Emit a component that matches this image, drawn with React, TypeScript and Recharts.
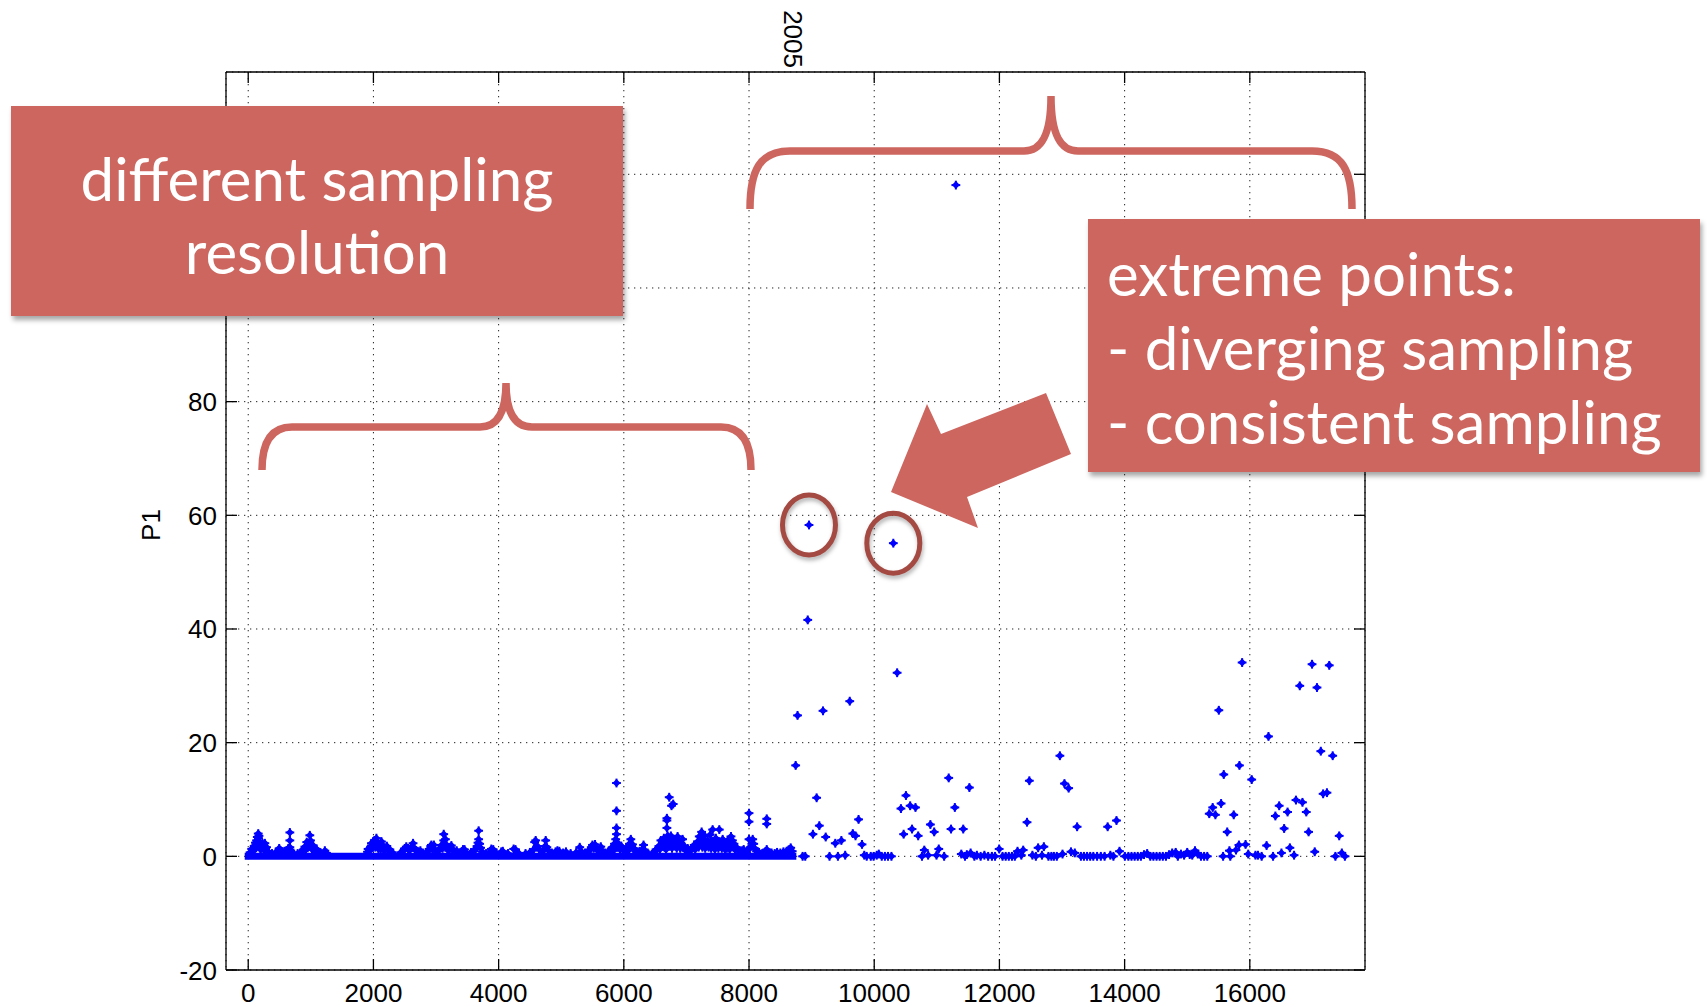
import React from 'react';
import { ScatterChart, Scatter, XAxis, YAxis, CartesianGrid, ReferenceLine, Label } from 'recharts';

// ---------- data ----------
const xTicks = [0, 2000, 4000, 6000, 8000, 10000, 12000, 14000, 16000];
const yTicks = [-20, 0, 20, 40, 60, 80, 100, 120];
// tick labels that the annotation box covers in the original are not drawn
const yTicksCovered = [100, 120];
const xDomain = [-355, 17840];
const yDomain = [-20, 138];
const topLabelPositions = [8700];
const topLabelTexts = ['2005'];
const yAxisTitle = 'P1';

// densely sampled period: continuous run of zero readings
const denseZeroRun = [0, 8700];

// non-zero readings in the densely sampled period [x, P1]
const denseSamples: number[][] = [
  [30,0.7],[55,1.3],[75,1.0],[95,1.8],[106,1.3],[115,2.4],[125,1.5],[133,2.8],[145,3.4],[152,2.2],[160,4.0],[165,3.2],[172,3.6],[178,2.6],[186,1.9],[196,1.2],[205,2.0],[215,1.4],[228,2.3],[240,1.6],[252,1.1],[266,2.3],[275,1.4],[293,1.6],[305,0.9],[330,0.7],[380,0.5],[440,0.7],[475,0.9],[495,1.4],[515,1.0],[540,0.8],[580,0.9],[615,1.0],[640,1.4],[665,1.6],[665,2.8],[665,4.2],[680,1.0],[720,0.6],[790,0.5],[850,0.8],[880,1.2],[905,1.7],[920,1.2],[935,2.5],[950,1.5],[965,2.3],[984,3.7],[995,2.8],[1005,1.8],[1020,1.2],[1037,1.9],[1055,1.1],[1075,0.8],[1090,1.3],[1120,0.8],[1160,0.6],[1224,1.0],[1250,0.6],
  [1905,0.8],[1915,1.3],[1940,1.0],[1955,1.7],[1968,2.3],[1985,1.5],[2000,2.2],[2015,2.8],[2030,1.6],[2048,3.2],[2065,2.2],[2080,1.3],[2100,2.0],[2115,1.2],[2128,2.6],[2145,1.6],[2154,1.9],[2170,1.0],[2190,1.4],[2214,1.8],[2235,1.0],[2263,1.2],[2300,0.7],
  [2440,0.7],[2480,1.0],[2500,1.4],[2525,1.7],[2553,1.4],[2575,1.0],[2600,1.6],[2633,2.3],[2650,1.5],[2680,1.0],[2720,0.8],[2750,1.0],[2790,0.6],
  [2860,0.8],[2890,1.3],[2915,1.8],[2926,2.0],[2945,1.2],[2966,2.0],[2990,1.0],[3030,0.9],[3060,1.4],[3090,2.0],[3105,1.4],[3123,2.8],[3123,3.9],[3135,2.2],[3150,3.0],[3165,2.0],[3180,1.4],[3200,1.0],[3225,1.6],[3245,1.9],[3265,1.2],[3295,0.8],[3330,1.0],[3370,0.6],[3410,0.8],[3431,1.2],[3455,1.2],[3485,0.6],
  [3560,0.7],[3600,0.9],[3630,1.2],[3655,1.8],[3670,2.4],[3681,3.0],[3681,4.5],[3697,2.2],[3712,1.5],[3740,0.8],[3800,0.5],[3860,0.8],[3884,1.3],[3914,1.2],[3960,0.6],[4043,0.8],[4067,0.9],[4150,0.5],[4240,1.3],[4269,1.2],[4320,0.6],
  [4430,0.5],[4500,0.7],[4560,1.2],[4575,2.5],[4592,2.8],[4605,1.6],[4619,1.8],[4648,1.2],[4700,0.9],[4730,1.2],[4745,1.8],[4752,2.8],[4770,1.6],[4800,1.0],[4850,0.6],[4910,0.8],[4939,1.0],[4970,0.9],[5030,0.6],[5076,0.8],[5150,0.5],[5240,0.7],[5296,1.6],[5320,0.9],[5380,0.6],
  [5430,0.8],[5460,1.2],[5480,1.6],[5499,2.0],[5520,1.4],[5540,2.1],[5565,1.2],[5600,1.0],[5632,1.7],[5655,1.0],[5700,0.6],[5750,0.8],[5792,1.2],[5815,1.6],[5835,1.0],[5850,2.2],[5865,1.6],[5870,3.0],[5883,3.9],[5883,5.0],[5883,8.0],[5883,12.9],[5895,2.4],[5905,1.6],[5920,2.0],[5940,1.2],[5960,1.8],[5980,1.3],[6010,0.9],[6040,1.4],[6070,1.0],[6090,2.2],[6112,3.0],[6125,1.8],[6139,2.1],[6160,1.4],[6200,0.8],[6250,0.9],[6290,1.2],[6315,2.0],[6340,1.0],[6380,0.6],
  [6460,0.6],[6500,0.9],[6530,1.3],[6560,1.8],[6575,1.2],[6592,2.8],[6605,1.8],[6620,2.4],[6640,3.2],[6650,1.6],[6665,2.2],[6675,1.2],[6688,5.0],[6688,6.3],[6688,6.7],[6695,2.0],[6700,3.6],[6712,2.8],[6725,10.4],[6730,1.8],[6740,2.6],[6752,3.6],[6762,8.9],[6770,1.4],[6780,2.2],[6789,9.2],[6800,3.0],[6815,1.8],[6830,2.6],[6845,1.4],[6859,3.5],[6870,2.0],[6885,2.6],[6900,1.4],[6915,2.2],[6939,3.0],[6950,1.6],[6965,1.8],[6990,1.0],
  [7020,1.4],[7050,0.9],[7080,1.2],[7100,1.6],[7125,2.0],[7140,1.2],[7160,1.8],[7180,2.6],[7195,1.6],[7205,3.5],[7220,2.2],[7243,4.3],[7255,1.6],[7260,3.0],[7275,2.2],[7290,3.6],[7300,1.4],[7310,2.4],[7325,1.8],[7340,2.8],[7355,1.6],[7370,2.2],[7380,3.8],[7395,1.4],[7405,2.6],[7419,4.7],[7430,1.8],[7440,2.6],[7455,1.2],[7470,3.2],[7485,2.0],[7500,2.6],[7510,1.4],[7525,4.7],[7540,1.8],[7550,2.4],[7565,1.4],[7579,3.0],[7590,1.8],[7600,2.5],[7615,1.2],[7630,2.0],[7645,1.4],[7660,2.8],[7675,1.8],[7690,1.2],[7712,3.5],[7722,2.2],[7735,2.8],[7750,1.6],[7760,2.2],[7775,1.2],[7800,1.6],[7830,1.0],[7860,0.8],[7890,1.0],[7915,1.2],[7960,0.7],[7990,1.2],[8000,3.0],[8000,6.1],[8000,7.6],[8020,1.6],[8045,2.2],[8059,3.0],[8075,2.2],[8090,1.4],[8120,0.9],[8160,0.7],[8210,0.5],[8260,0.8],[8283,1.2],[8283,5.7],[8283,6.6],[8310,0.7],[8360,0.6],[8410,0.5],[8448,0.7],[8500,0.6],[8550,0.8],[8600,0.9],[8630,1.1],[8645,1.2],[8666,1.5],[8690,0.9],
];

// readings in the sparsely sampled period [x, P1]
const sparseSamples: number[][] = [
  [8745,16.0],[8775,24.8],[8856,0],[8898,0],[8938,41.6],[8958,58.3],[9021,3.9],[9080,10.3],[9123,5.4],[9182,25.6],[9225,3.4],[9286,0],[9378,2.3],[9420,0],[9475,2.8],[9536,0.2],[9609,27.3],[9658,4.0],[9701,3.6],[9750,6.5],[9805,2.1],
  [9841,0.2],[9880,0],[9945,0],[9990,0],[10040,0.2],[10073,0.4],[10120,0],[10171,0],[10220,0],[10275,0],[10305,55.1],[10366,32.3],[10427,8.4],[10470,3.9],[10507,10.7],[10574,8.9],[10604,4.8],[10659,8.6],[10702,3.6],
  [10763,0],[10800,1.1],[10861,0.2],[10897,5.6],[10958,4.3],[10995,0.2],[11031,1.3],[11117,0],[11190,13.8],[11227,4.8],[11288,8.6],[11304,118.1],[11391,0.4],[11422,4.8],[11450,0],[11480,0.3],[11520,12.1],[11540,0.6],[11600,0],[11640,0.2],[11700,0],[11760,0.2],[11820,0],[11880,0],[11930,0],[11996,1.3],
  [12050,0],[12100,0],[12150,0],[12200,0],[12246,0],[12289,0.9],[12350,0.2],[12380,1.1],[12441,6.0],[12478,13.3],[12527,0.2],[12582,0],[12618,1.5],[12680,0.2],[12710,1.7],[12783,0],[12830,0],[12870,0],[12917,0],[12966,17.7],[13008,0.4],[13039,12.8],[13106,12.0],[13143,0.8],[13204,0.6],[13241,5.2],
  [13302,0],[13350,0],[13400,0],[13450,0],[13500,0],[13560,0],[13620,0],[13680,0],[13729,5.2],[13772,0.2],[13821,0],[13870,6.3],[13918,0.9],
  [14004,0],[14060,0],[14110,0],[14160,0],[14210,0],[14260,0],[14310,0.3],[14360,0.5],[14410,0],[14460,0],[14510,0],[14560,0],[14610,0],[14660,0],[14710,0.3],[14760,0.6],[14816,0.7],[14850,0],[14900,0.4],[14950,0.2],[15000,0.7],[15040,0.3],[15080,0.2],[15124,1.0],[15170,0.4],[15220,0],[15270,0],[15320,0],
  [15352,7.5],[15407,8.6],[15450,7.3],[15505,25.7],[15541,9.3],[15573,0],[15584,14.4],[15639,4.3],[15674,1.0],[15688,0],[15743,7.3],[15779,1.1],[15826,2.0],[15834,16.0],[15877,34.1],[15932,2.1],[15975,0.4],[16030,13.5],[16090,0.2],[16130,0.2],[16189,0],
  [16268,1.9],[16298,21.1],[16371,0],[16408,7.1],[16469,8.9],[16505,0.6],[16548,4.9],[16603,7.8],[16640,1.5],[16707,0.2],[16737,9.9],[16798,30.0],[16841,9.5],[16902,7.8],[16939,4.3],[16994,33.8],[17037,0.8],[17073,29.7],[17134,18.5],[17171,11.0],[17232,11.2],[17269,33.6],[17324,17.7],[17367,0],[17428,3.6],[17470,0.6],[17519,0],
];

// extreme points that are circled
const circledPoints: number[][] = [[8958, 58.3], [10305, 55.1]];

const annotationBox1 = ['different sampling', 'resolution'];
const annotationBox2 = ['extreme points:', '- diverging sampling', '- consistent sampling'];

// ---------- styles ----------
const BLUE = '#0000ff';
const RED = '#cd665f';
const DARK_RED = '#a54a42';
const TICK_FONT = '"Liberation Sans", Arial, Helvetica, sans-serif';
const NOTE_FONT = 'Lato, "Open Sans", sans-serif';
const NOTE_SIZE = 60;
const TICK_LEN = 11;

const toPts = (arr: number[][]) => arr.map(([x, y]) => ({ x, y }));

const Marker = (props: any) => {
  const { cx, cy } = props;
  if (cx == null || cy == null) return null;
  return (
    <g>
      <path d={`M${cx},${cy - 4}L${cx + 4},${cy}L${cx},${cy + 4}L${cx - 4},${cy}Z`} fill={BLUE} />
      <rect x={cx - 4.4} y={cy - 1} width={8.8} height={2} fill={BLUE} />
      <rect x={cx - 1} y={cy - 4.4} width={2} height={8.8} fill={BLUE} />
    </g>
  );
};

const Ring = (props: any) => {
  const { cx, cy } = props;
  if (cx == null || cy == null) return null;
  return (
    <ellipse cx={cx} cy={cy} rx={26.5} ry={30} fill="none" stroke={DARK_RED} strokeWidth={5}
      style={{ filter: 'drop-shadow(1px 3px 2px rgba(0,0,0,0.3))' }} />
  );
};

const BottomTick = (props: any) => {
  const { x, y, payload } = props;
  return (
    <g>
      <line x1={x} x2={x} y1={y} y2={y - TICK_LEN} stroke="#000" strokeWidth={1.3} />
      <text x={x} y={y + 32} textAnchor="middle" fontFamily={TICK_FONT} fontSize={26} fill="#000">{payload.value}</text>
    </g>
  );
};

const TopTick = (props: any) => {
  const { x, y, payload } = props;
  const idx = topLabelPositions.indexOf(payload.value);
  if (idx >= 0) {
    return (
      <text transform={`translate(${x},${y - 4}) rotate(90)`} textAnchor="end" dominantBaseline="central"
        fontFamily={TICK_FONT} fontSize={26} fill="#000">{topLabelTexts[idx]}</text>
    );
  }
  return <line x1={x} x2={x} y1={y} y2={y + TICK_LEN} stroke="#000" strokeWidth={1.3} />;
};

const LeftTick = (props: any) => {
  const { x, y, payload } = props;
  const covered = yTicksCovered.indexOf(payload.value) >= 0;
  return (
    <g>
      <line x1={x} x2={x + TICK_LEN} y1={y} y2={y} stroke="#000" strokeWidth={1.3} />
      {!covered && (
        <text x={x - 9} y={y + 9.5} textAnchor="end" fontFamily={TICK_FONT} fontSize={26} fill="#000">{payload.value}</text>
      )}
    </g>
  );
};

const RightTick = (props: any) => {
  const { x, y } = props;
  return <line x1={x} x2={x - TICK_LEN} y1={y} y2={y} stroke="#000" strokeWidth={1.3} />;
};

const YTitle = (props: any) => {
  const vb = props.viewBox || { x: 0, y: 72, width: 226, height: 898 };
  const cx = vb.x + vb.width - 66;
  const cy = vb.y + vb.height / 2 + 4;
  return (
    <text transform={`translate(${cx},${cy}) rotate(-90)`} textAnchor="middle" fontFamily={TICK_FONT} fontSize={26} fill="#000">{yAxisTitle}</text>
  );
};

const axisLine = { stroke: '#000', strokeWidth: 1.3 };

const Overlay = () => (
  <svg width={1707} height={1007} style={{ position: 'absolute', left: 0, top: 0, pointerEvents: 'none' }}>
    <defs>
      <filter id="boxShadow" x="-5%" y="-5%" width="115%" height="120%">
        <feDropShadow dx="2" dy="4" stdDeviation="2.5" floodColor="#000" floodOpacity="0.35" />
      </filter>
    </defs>
    {/* braces */}
    <path d="M262,470 C262,444 270,427 292,427 L480,427 C496,427 506,414 506,383 C506,414 516,427 532,427 L721,427 C743,427 751,444 751,470"
      fill="none" stroke={RED} strokeWidth={7.5} />
    <path d="M750,209 C750,170 760,151 790,151 L1024,151 C1041,151 1051,136 1051,96 C1051,136 1061,151 1078,151 L1312,151 C1342,151 1352,170 1352,209"
      fill="none" stroke={RED} strokeWidth={7.5} />
    {/* arrow */}
    <polygon points="891,492 927,404 941,434 1046,393 1071,454 967,497 978,528" fill={RED} />
    {/* box 1 */}
    <rect x={11} y={106} width={612} height={210} fill={RED} filter="url(#boxShadow)" />
    <text x={317} y={201} textAnchor="middle" fontFamily={NOTE_FONT} fontSize={NOTE_SIZE} fill="#fff">{annotationBox1[0]}</text>
    <text x={317} y={274} textAnchor="middle" fontFamily={NOTE_FONT} fontSize={NOTE_SIZE} fill="#fff">{annotationBox1[1]}</text>
    {/* box 2 */}
    <rect x={1088} y={219} width={612} height={253} fill={RED} filter="url(#boxShadow)" />
    {annotationBox2.map((t, i) => (
      <text key={i} x={1107} y={296 + i * 74} fontFamily={NOTE_FONT} fontSize={NOTE_SIZE} fill="#fff">{t}</text>
    ))}
  </svg>
);

export default function App() {
  return (
    <div style={{ position: 'absolute', left: 0, top: 0, width: 1707, height: 1007, background: '#fff' }}>
      <ScatterChart width={1707} height={1007} margin={{ top: 0, right: 0, bottom: 0, left: 0 }}>
        <CartesianGrid stroke="#222" strokeWidth={1} strokeDasharray="1.3 4.7" />
        <XAxis type="number" dataKey="x" domain={xDomain} ticks={xTicks} interval={0} height={37}
          tickSize={0} tickMargin={0} tick={<BottomTick />} tickLine={false} axisLine={axisLine} allowDataOverflow />
        <XAxis xAxisId="top" orientation="top" type="number" dataKey="x" domain={xDomain}
          ticks={[...xTicks, ...topLabelPositions]} interval={0} height={72}
          tickSize={0} tickMargin={0} tick={<TopTick />} tickLine={false} axisLine={axisLine} allowDataOverflow />
        <YAxis type="number" dataKey="y" domain={yDomain} ticks={yTicks} interval={0} width={226}
          tickSize={0} tickMargin={0} tick={<LeftTick />} tickLine={false} axisLine={axisLine} allowDataOverflow>
          <Label content={<YTitle />} />
        </YAxis>
        <YAxis yAxisId="right" orientation="right" type="number" dataKey="y" domain={yDomain} ticks={yTicks} interval={0} width={342}
          tickSize={0} tickMargin={0} tick={<RightTick />} tickLine={false} axisLine={axisLine} allowDataOverflow />
        <ReferenceLine segment={[{ x: denseZeroRun[0], y: 0 }, { x: denseZeroRun[1], y: 0 }]} stroke={BLUE} strokeWidth={7} strokeLinecap="square" />
        <Scatter name="dense" data={toPts(denseSamples)} shape={<Marker />} isAnimationActive={false} />
        <Scatter name="sparse" data={toPts(sparseSamples)} shape={<Marker />} isAnimationActive={false} />
        <Scatter name="circled" data={toPts(circledPoints)} shape={<Ring />} isAnimationActive={false} />
      </ScatterChart>
      <Overlay />
    </div>
  );
}
